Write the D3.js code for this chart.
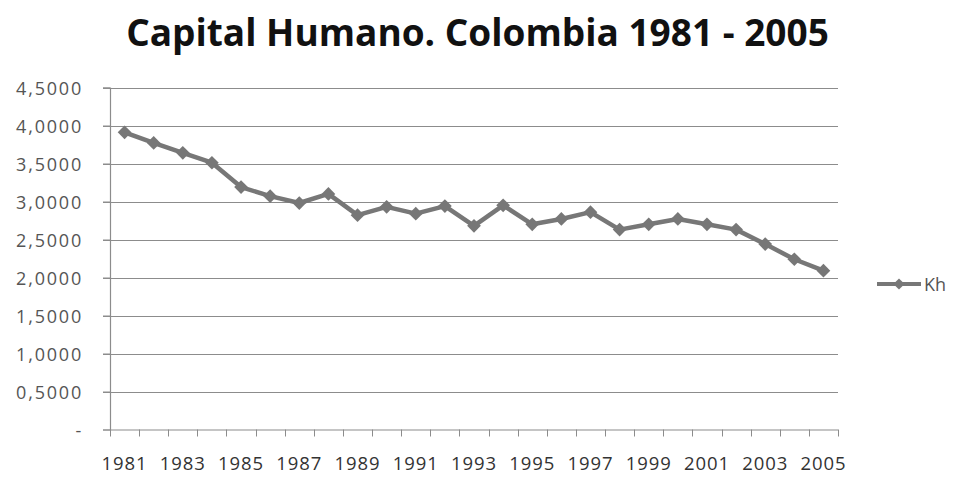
<!DOCTYPE html>
<html><head><meta charset="utf-8">
<script src="https://cdn.jsdelivr.net/npm/d3@7"></script>
<style>body{margin:0;background:#fff}svg{display:block}</style>
</head><body><svg id="c" width="954" height="478"></svg>
<script>
const years = ["1981","1982","1983","1984","1985","1986","1987","1988","1989","1990","1991","1992","1993","1994","1995","1996","1997","1998","1999","2000","2001","2002","2003","2004","2005"];
const kh = [3.91,3.77,3.64,3.51,3.19,3.07,2.98,3.10,2.82,2.93,2.84,2.94,2.68,2.95,2.70,2.77,2.86,2.63,2.70,2.77,2.70,2.63,2.44,2.24,2.09];
const yTicks = [0,0.5,1,1.5,2,2.5,3,3.5,4,4.5];
const yTickLabels = ["-","0,5000","1,0000","1,5000","2,0000","2,5000","3,0000","3,5000","4,0000","4,5000"];
const seriesName = "Kh";
const title = "Capital Humano. Colombia 1981 - 2005";

const svg = d3.select("#c");
const L = 110, R = 838, T = 87.5, B = 429.5;
const x = d3.scaleBand().domain(years).range([L, R]);
const y = d3.scaleLinear().domain([0, 4.5]).range([B, T]);
const grey = "#777777";
const font = "Open Sans, sans-serif";

svg.append("text").attr("x", 477.5).attr("y", 46).attr("text-anchor", "middle")
  .attr("font-family", font).attr("font-weight", "bold")
  .attr("font-size", 37).attr("fill", "#111").text(title);

// gridlines
svg.append("g").selectAll("line").data(yTicks.filter(d => d > 0)).join("line")
  .attr("x1", L - 7).attr("x2", R).attr("y1", d => Math.round(y(d)) + 0.5).attr("y2", d => Math.round(y(d)) + 0.5)
  .attr("stroke", "#8c8c8c").attr("stroke-width", 1.2);

// y axis
const yAxis = d3.axisLeft(y).tickValues(yTicks).tickSize(7).tickFormat((d, i) => yTickLabels[i]);
const gy = svg.append("g").attr("transform", `translate(${L},0)`).call(yAxis);
gy.select(".domain").attr("stroke", "#8c8c8c").attr("stroke-width", 1.2);
gy.selectAll(".tick line").attr("stroke", "#8c8c8c");
gy.selectAll(".tick text").attr("font-family", font).attr("font-size", 18).attr("letter-spacing", 1.8)
  .attr("fill", "#555").attr("x", -27).attr("dy", "0.38em");

// x axis
const boundaries = years.map(d => x(d)).concat([R]);
const gx = svg.append("g");
gx.append("line").attr("x1", L).attr("x2", R).attr("y1", B + 0.5).attr("y2", B + 0.5).attr("stroke", "#8c8c8c").attr("stroke-width", 1.2);
gx.selectAll("line.t").data(boundaries).join("line").attr("class", "t")
  .attr("x1", d => Math.round(d) + 0.5).attr("x2", d => Math.round(d) + 0.5).attr("y1", B).attr("y2", B + 7)
  .attr("stroke", "#8c8c8c");
gx.selectAll("text").data(years.filter((d, i) => i % 2 === 0)).join("text")
  .attr("x", d => x(d) + x.bandwidth() / 2).attr("y", 470).attr("text-anchor", "middle")
  .attr("font-family", font).attr("font-size", 18.5).attr("letter-spacing", 0.9).attr("fill", "#333").text(d => d);

// line
const pts = years.map((d, i) => [x(d) + x.bandwidth() / 2, y(kh[i])]);
svg.append("path").datum(pts).attr("d", d3.line()).attr("fill", "none").attr("stroke", grey).attr("stroke-width", 4.5).attr("stroke-linejoin", "round");
const diamond = d3.symbol().type(d3.symbolDiamond2).size(120);
svg.append("g").selectAll("path").data(pts).join("path")
  .attr("transform", d => `translate(${d[0]},${d[1]})`).attr("d", diamond).attr("fill", grey);

// legend
const lg = svg.append("g");
lg.append("line").attr("x1", 877).attr("x2", 921).attr("y1", 284).attr("y2", 284).attr("stroke", grey).attr("stroke-width", 4);
lg.append("path").attr("transform", "translate(899,284)").attr("d", d3.symbol().type(d3.symbolDiamond2).size(80)).attr("fill", grey);
lg.append("text").attr("x", 924).attr("y", 291).attr("font-family", font).attr("font-size", 18).attr("fill", "#555").text(seriesName);
</script></body></html>
